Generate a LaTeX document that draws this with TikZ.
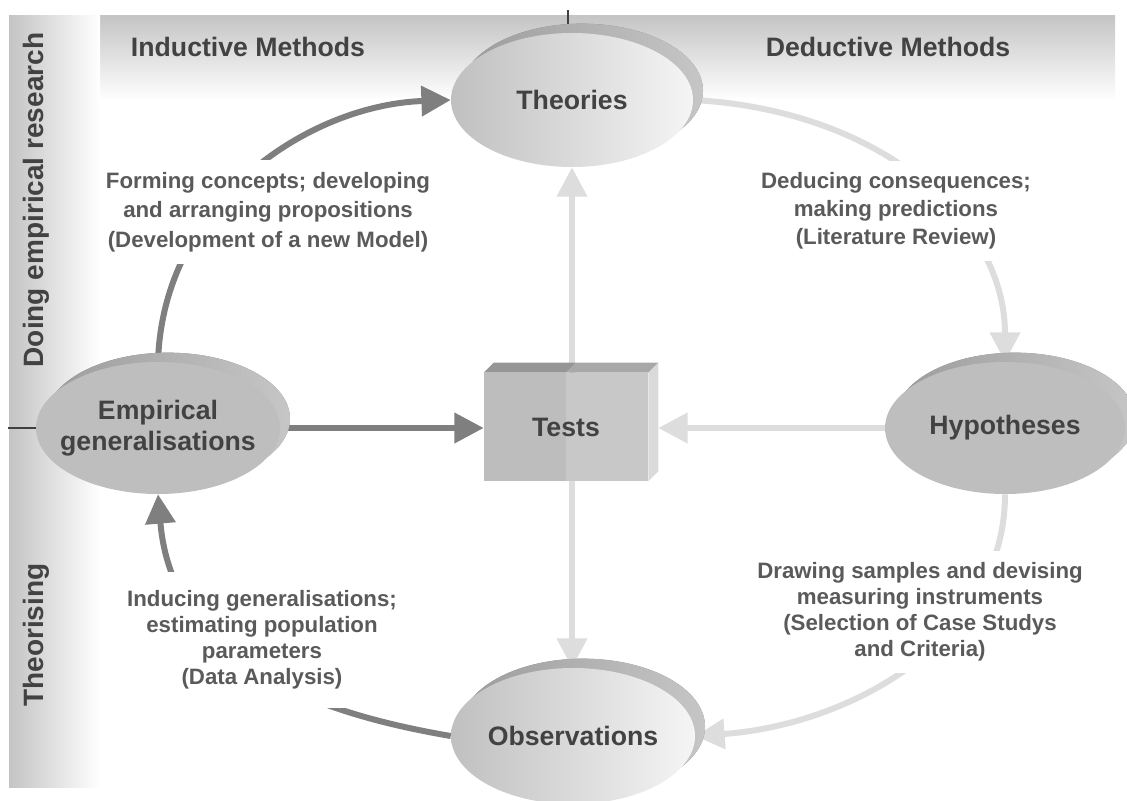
\documentclass[tikz,border=0pt]{standalone}
\usepackage{fontspec}
\setmainfont{Liberation Sans}
\usetikzlibrary{arrows.meta,shapes.geometric,shadows}
\definecolor{darkarr}{HTML}{7F7F7F}
\definecolor{lightarr}{HTML}{DDDDDD}
\definecolor{nodetxt}{HTML}{424242}
\definecolor{labtxt}{HTML}{5A5A5A}
\definecolor{bandgray}{HTML}{C4C4C4}
\definecolor{ellgray}{HTML}{BEBEBE}
\definecolor{shA}{HTML}{9C9C9C}
\definecolor{shB}{HTML}{C6C6C6}
\definecolor{gradL}{HTML}{C0C0C0}
\definecolor{gradR}{HTML}{F5F5F5}
\definecolor{testL}{HTML}{BDBDBD}
\definecolor{testR}{HTML}{C8C8C8}
\definecolor{testTL}{HTML}{969696}
\definecolor{testTR}{HTML}{A8A8A8}
\definecolor{testS}{HTML}{DADADA}
\pgfdeclarelayer{bg}\pgfdeclarelayer{mid}\pgfsetlayers{bg,mid,main}
\begin{document}
\begin{tikzpicture}[x=0.75pt,y=-0.75pt,
 ell/.style={ellipse, inner xsep=-25pt, inner ysep=0pt, text=nodetxt,
   font=\fontsize{20}{23}\selectfont\bfseries, align=center,
   drop shadow={shadow xshift=7.5pt, shadow yshift=7pt, opacity=1, left color=shA, right color=shB}},
 ellflat/.style={ell, fill=ellgray},
 ellgrad/.style={ell, left color=gradL, right color=gradR},
 lab/.style={fill=white, text=labtxt, align=center, inner xsep=4pt, inner ysep=9pt},
 labfont/.style={font=\fontsize{16.7}{#1}\selectfont\bfseries},
 darkc/.style={draw=darkarr, line width=4.5pt, -{Triangle[length=22pt,width=22pt]}},
 lightc/.style={draw=lightarr, line width=4.5pt, -{Triangle[length=22pt,width=22pt]}},
 head/.style={text=nodetxt, font=\fontsize{20}{24}\selectfont\bfseries},
 sidehead/.style={text=nodetxt, font=\fontsize{21}{24}\selectfont\bfseries, rotate=90},
 tick/.style={draw=black!75, line width=1.1pt}
]
\useasboundingbox (0,0) rectangle (1127,800);

% headings
\node[head] (ind) at (248,47) {Inductive Methods};
\node[head] (ded) at (888,47) {Deductive Methods};
\node[sidehead] (doing) at (36,200) {Doing empirical research};
\node[sidehead] (theor) at (36,635) {Theorising};

% main nodes
\node[ellgrad, minimum width=181.5pt, minimum height=100.5pt] (theo) at (572,100) {Theories};
\node[ellflat, minimum width=183pt, minimum height=99pt] (emp) at (158,428) {Empirical\\generalisations};
\node[ellflat, minimum width=180pt, minimum height=99pt] (hyp) at (1005,428) {Hypotheses};
\node[ellgrad, minimum width=183pt, minimum height=102pt] (obs) at (573,736) {Observations};
\node[minimum width=123pt, minimum height=81pt, inner sep=0pt, text=nodetxt,
      font=\fontsize{20}{23}\selectfont\bfseries] (tests) at (566,427) {Tests};

% labels
\node[lab, labfont=22] (l1) at (268,212) {Forming concepts; developing\\and arranging propositions\\(Development of a new Model)};
\node[lab, labfont=21] (l2) at (896,211) {Deducing consequences;\\making predictions\\(Literature Review)};
\node[lab, labfont=19.5] (l3) at (920,612) {Drawing samples and devising\\measuring instruments\\(Selection of Case Studys\\and Criteria)};
\node[lab, labfont=19.5, inner ysep=14pt] (l4) at (262,640) {Inducing generalisations;\\estimating population\\parameters\\(Data Analysis)};

\begin{pgfonlayer}{bg}
  \fill[top color=bandgray, bottom color=white] (100,15) rectangle (1115,100);
  \fill[left color=bandgray, right color=white] (9,15) rectangle (100,787);
  \coordinate (tT) at (568,10);
  \coordinate (tL) at (8,428);
  \draw[tick] (tT) -- (tT |- theo.north);
  \draw[tick] (tL) -- (emp.west);
\end{pgfonlayer}

\begin{pgfonlayer}{mid}
  \draw[darkc] (emp.north) .. controls (163,200) and (310,105) .. (theo.west);
  \draw[lightc] (theo.east) .. controls (880,110) and (1005,220) .. (hyp.north);
  \draw[lightc] (hyp.south) .. controls (1005,640) and (850,725) .. (obs.east);
  \draw[darkc] (obs.west) .. controls (310,712) and (172,660) .. (emp.south);
  \draw[darkc] (emp.east) -- (emp.east -| tests.west);
  \coordinate (tside) at ([xshift=7.5pt]tests.east);
  \draw[lightc] (hyp.west) -- (hyp.west -| tside);
  \draw[lightc, {Triangle[length=22pt,width=22pt]}-{Triangle[length=22pt,width=22pt]}]
     (theo.south) -- (theo.south |- obs.north);
  % Tests box faces
  \fill[testL] (tests.north west) rectangle (tests.south);
  \fill[testR] (tests.north) rectangle (tests.south east);
  \fill[testTL] (tests.north west) -- ++(10,-10) -- ([shift={(10,-10)}]tests.north) -- (tests.north) -- cycle;
  \fill[testTR] (tests.north) -- ++(10,-10) -- ([shift={(10,-10)}]tests.north east) -- (tests.north east) -- cycle;
  \fill[testS] (tests.north east) -- ++(10,-10) -- ([shift={(10,-10)}]tests.south east) -- (tests.south east) -- cycle;
\end{pgfonlayer}
\end{tikzpicture}
\end{document}
